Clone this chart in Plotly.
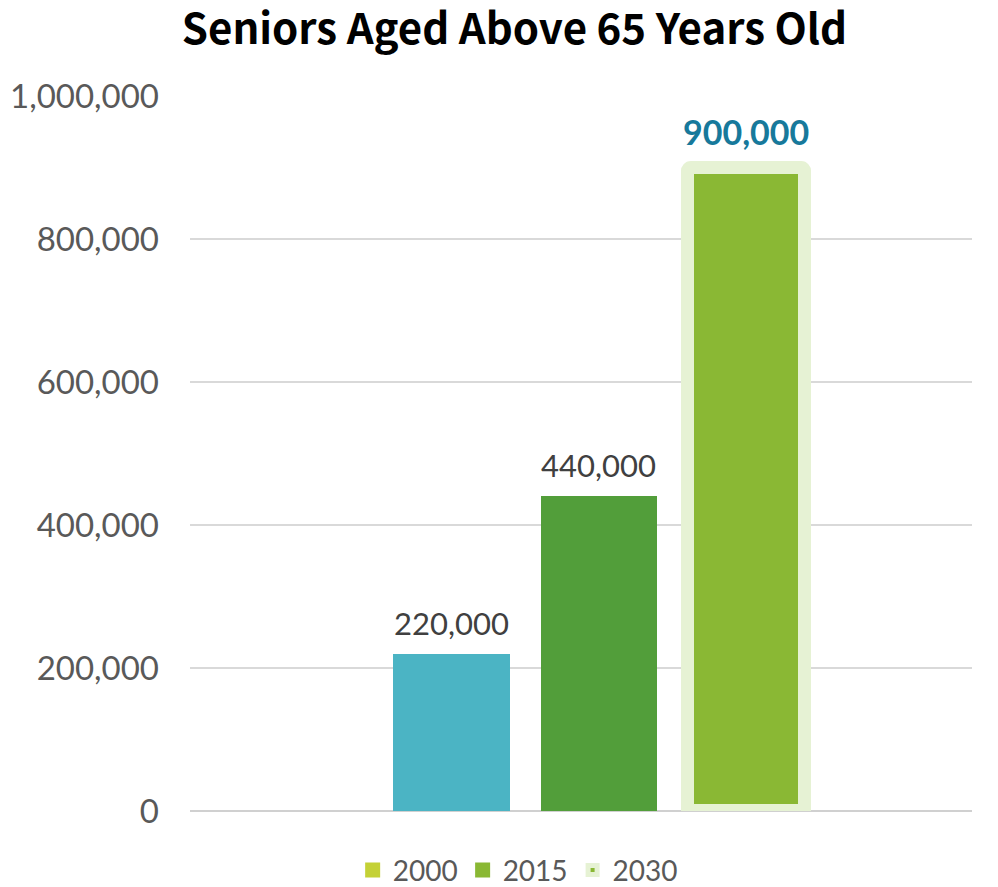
import plotly.graph_objects as go

# ---- data ----
years = ["2000", "2015", "2030"]
values = [220000, 440000, 900000]
label_texts = ["220,000", "440,000", "900,000"]
bar_colors = ["#4bb4c4", "#529e3a", "#8ab834"]
legend_colors = ["#c4d136", "#8ab834", "#8ab834"]
tick_vals = [0, 200000, 400000, 600000, 800000, 1000000]
tick_text = ["0", "200,000", "400,000", "600,000", "800,000", "1,000,000"]
title_text = "Seniors Aged Above 65 Years Old"

PALE = "#e6f2d4"
positions = [0, 1, 2]

fig = go.Figure()

for i, (yr, v) in enumerate(zip(years, values)):
    highlight = (i == 2)
    fig.add_trace(go.Bar(
        x=[positions[i]], y=[v], width=0.79,
        marker=dict(
            color=bar_colors[i],
            line=dict(color=PALE if highlight else bar_colors[i], width=13 if highlight else 0),
            cornerradius=4 if highlight else 0,
        ),
        showlegend=False, hoverinfo="skip",
    ))

# legend-only entries
for i, yr in enumerate(years):
    highlight = (i == 2)
    fig.add_trace(go.Scatter(
        x=[None], y=[None], mode="markers", name=yr,
        marker=dict(
            symbol="square",
            size=9 if highlight else 15,
            color=legend_colors[i],
            line=dict(color=PALE, width=5 if highlight else 0),
        ),
    ))

# data labels
for i, (v, t) in enumerate(zip(values, label_texts)):
    highlight = (i == 2)
    fig.add_annotation(
        x=positions[i], y=v, text=t, showarrow=False,
        yanchor="bottom", yshift=10 if not highlight else 14,
        font=dict(family="Lato", size=31 if not highlight else 34,
                  color="#17799b" if highlight else "#404040",
                  weight="bold" if highlight else "normal"),
    )

fig.update_layout(
    width=998, height=887,
    margin=dict(l=190, r=26, t=96, b=76, autoexpand=False),
    paper_bgcolor="white", plot_bgcolor="white",
    bargap=0,
    title=dict(text=title_text, x=0.5155, xref="container", xanchor="center",
               y=1 - 29 / 887, yref="container", yanchor="middle",
               font=dict(family="Noto Sans CJK SC", size=42, color="#000000", weight="bold")),
    xaxis=dict(range=[-1.773, 3.529], showticklabels=False, showgrid=False,
               zeroline=False, showline=False, fixedrange=True),
    yaxis=dict(range=[0, 1000000], tickvals=tick_vals, ticktext=tick_text,
               showgrid=True, gridcolor="#d9d9d9", gridwidth=1.5,
               zeroline=True, zerolinecolor="#d0d0d0", zerolinewidth=2,
               ticks="", ticklabelstandoff=30,
               tickfont=dict(family="Lato", size=33, color="#595959")),
    legend=dict(orientation="h", x=0.419, xanchor="center", y=-0.048, yanchor="top",
                font=dict(family="Lato", size=28, color="#595959"),
                itemwidth=30, bgcolor="rgba(0,0,0,0)"),
    showlegend=True,
)

fig.write_html("out.html")
